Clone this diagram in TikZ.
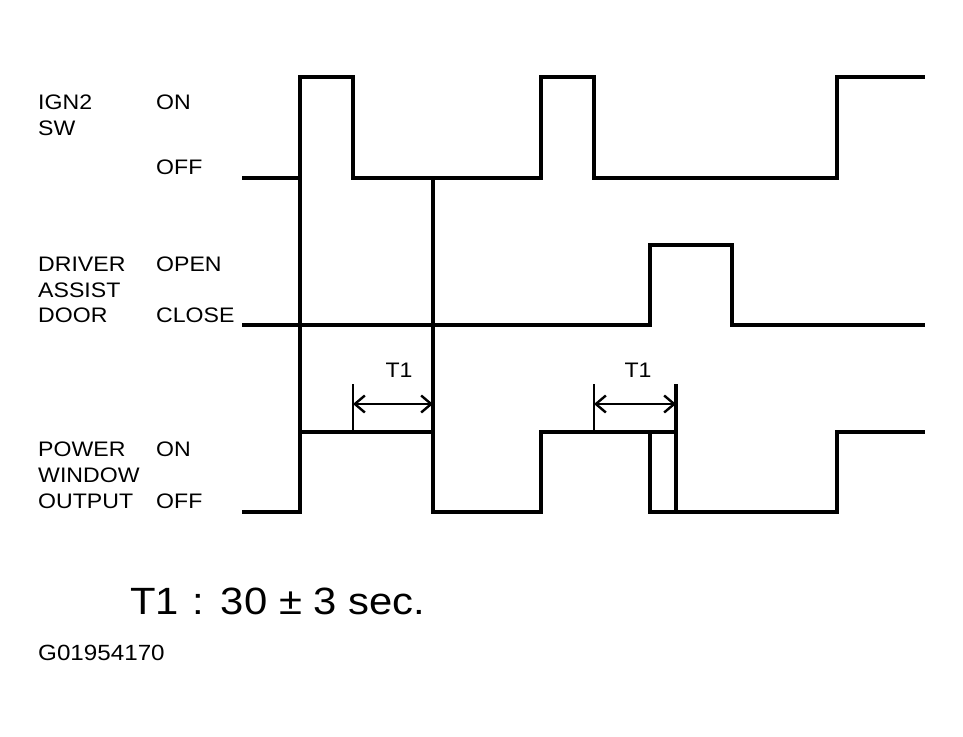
\documentclass[tikz,border=0pt]{standalone}
\usepackage{fontspec}
\setmainfont{Liberation Sans}[FakeStretch=1.1]
\usetikzlibrary{arrows.meta}
\begin{document}
\begin{tikzpicture}[x=1pt,y=-1pt,
  wave/.style={line width=3.2pt, line join=miter, line cap=butt},
  lbl/.style={anchor=base west, inner sep=0pt, font=\fontsize{21}{24}\selectfont},
  ext/.style={line width=2.4pt},
  dimarrow/.style={line width=2.4pt, {Straight Barb[length=10pt,width=17pt,line width=2.4pt]}-{Straight Barb[length=10pt,width=17pt,line width=2.4pt]}},
  tlbl/.style={anchor=base, inner sep=0pt, font=\fontsize{21}{24}\selectfont}]
\useasboundingbox (0,0) rectangle (963,736);
\fill[white] (0,0) rectangle (963,736);
% labels
\node[lbl] (ign) at (38,109) {IGN2};
\node[lbl] (sw) at (38,135) {SW};
\node[lbl] (ignon) at (156,109) {ON};
\node[lbl] (ignoff) at (156,174) {OFF};
\node[lbl] (drv) at (38,271) {DRIVER};
\node[lbl] (ast) at (38,297) {ASSIST};
\node[lbl] (door) at (38,322) {DOOR};
\node[lbl] (open) at (156,271) {OPEN};
\node[lbl] (close) at (156,322) {CLOSE};
\node[lbl] (pw) at (38,456) {POWER};
\node[lbl] (win) at (38,482) {WINDOW};
\node[lbl] (out) at (38,508) {OUTPUT};
\node[lbl] (pwon) at (156,456) {ON};
\node[lbl] (pwoff) at (156,508) {OFF};
% IGN2 SW
\draw[wave] (242,178) -| (300,77) -| (353,178) -| (541,77) -| (594,178) -| (837,77) -- (925,77);
% long verticals
\draw[wave] (300,77) -- (300,512);
\draw[wave] (433,178) -- (433,512);
% door
\draw[wave] (242,325) -| (650,245) -| (732,325) -- (925,325);
% power window output
\draw[wave] (242,512) -| (300,432) -| (433,512) -| (541,432) -- (676,432);
\draw[wave] (650,432) -- (650,512) -| (837,432) -- (925,432);
\draw[wave] (676,384) -- (676,512);
% T1 dimensions
\draw[ext] (353,384) -- (353,432);
\draw[ext] (594,384) -- (594,432);
\coordinate (a1) at (353,404);
\coordinate (b1) at (433,404);
\coordinate (a2) at (594,404);
\coordinate (b2) at (676,404);
\draw[dimarrow] (a1) -- (b1);
\draw[dimarrow] (a2) -- (b2);
\node[tlbl] (t1a) at (399,377) {T1};
\node[tlbl] (t1b) at (638,377) {T1};
% notes
\node[anchor=base west, inner sep=0pt, font=\fontsize{38}{44}\selectfont] (note) at (130,614) {T1\hspace{0.35em}:\hspace{0.45em}30 ± 3 sec.};
\node[anchor=base west, inner sep=0pt, font=\fontsize{22}{26}\selectfont] (code) at (38,660) {G01954170};
\end{tikzpicture}
\end{document}
